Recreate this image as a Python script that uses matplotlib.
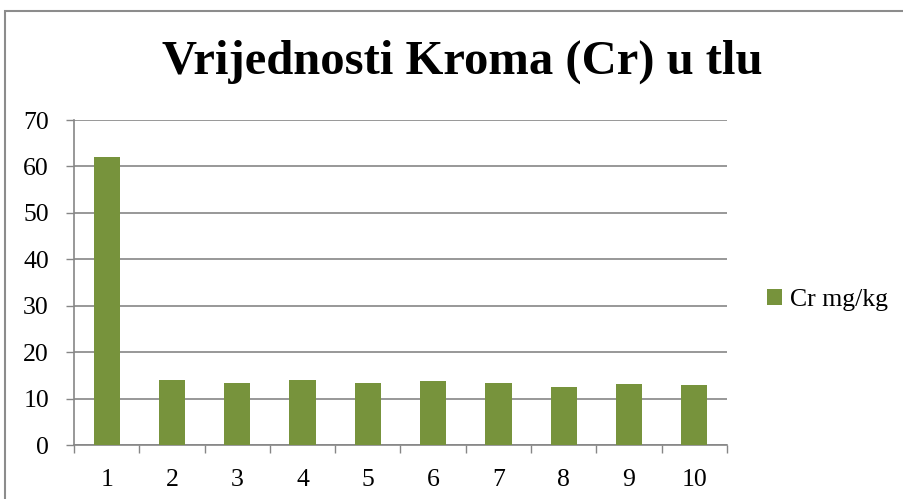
import matplotlib.pyplot as plt
from matplotlib.patches import Rectangle
import numpy as np

categories = ['1', '2', '3', '4', '5', '6', '7', '8', '9', '10']
cr_values = [62.0, 14.0, 13.3, 14.0, 13.3, 13.75, 13.3, 12.6, 13.1, 12.9]
y_ticks = [0, 10, 20, 30, 40, 50, 60, 70]

plt.rcParams['font.family'] = ['Liberation Serif', 'DejaVu Serif']

fig = plt.figure(figsize=(9.04, 4.99), dpi=100)
ax = fig.add_axes([74 / 904, 1 - 445 / 499, 653 / 904, 325 / 499])

# chart frame (runs off the right/bottom edge like the screenshot)
fig.patches.append(Rectangle((5 / 904, -0.1), 1.2, 1.1 - 11 / 499, transform=fig.transFigure,
                             fill=False, edgecolor='#8c8c8c', linewidth=1.5))

x = np.arange(len(categories))
bars = ax.bar(x, cr_values, width=0.4, color='#77933C', label='Cr mg/kg', zorder=3)

ax.set_xlim(-0.5, len(categories) - 0.5)
ax.set_ylim(0, 70)
ax.set_yticks(y_ticks)
ax.set_xticks(x)
ax.set_xticklabels(categories)
ax.set_xticks(np.arange(-0.5, len(categories)), minor=True)
ax.tick_params(axis='x', which='major', length=0, pad=17, labelsize=18.5)
ax.tick_params(axis='x', which='minor', length=6, color='#868686', width=1)
ax.tick_params(axis='y', length=6, color='#868686', width=1, labelsize=18.5, pad=12)

ax.grid(axis='y', color='#868686', linewidth=1.2, zorder=0)
for s in ['top', 'right']:
    ax.spines[s].set_visible(False)
for s in ['left', 'bottom']:
    ax.spines[s].set_color('#868686')
    ax.spines[s].set_linewidth(1.2)

fig.text(462 / 904, 1 - 62 / 499, 'Vrijednosti Kroma (Cr) u tlu', ha='center', va='center',
         fontsize=35, fontweight='bold')

fig.legend(handles=[bars], labels=['Cr mg/kg'], loc='center left', bbox_to_anchor=(767 / 904, 1 - 300 / 499),
           frameon=False, fontsize=18.5, handlelength=0.6, handleheight=0.6, handletextpad=0.3,
           borderpad=0, borderaxespad=0)

fig.savefig('out.png', dpi=100)
